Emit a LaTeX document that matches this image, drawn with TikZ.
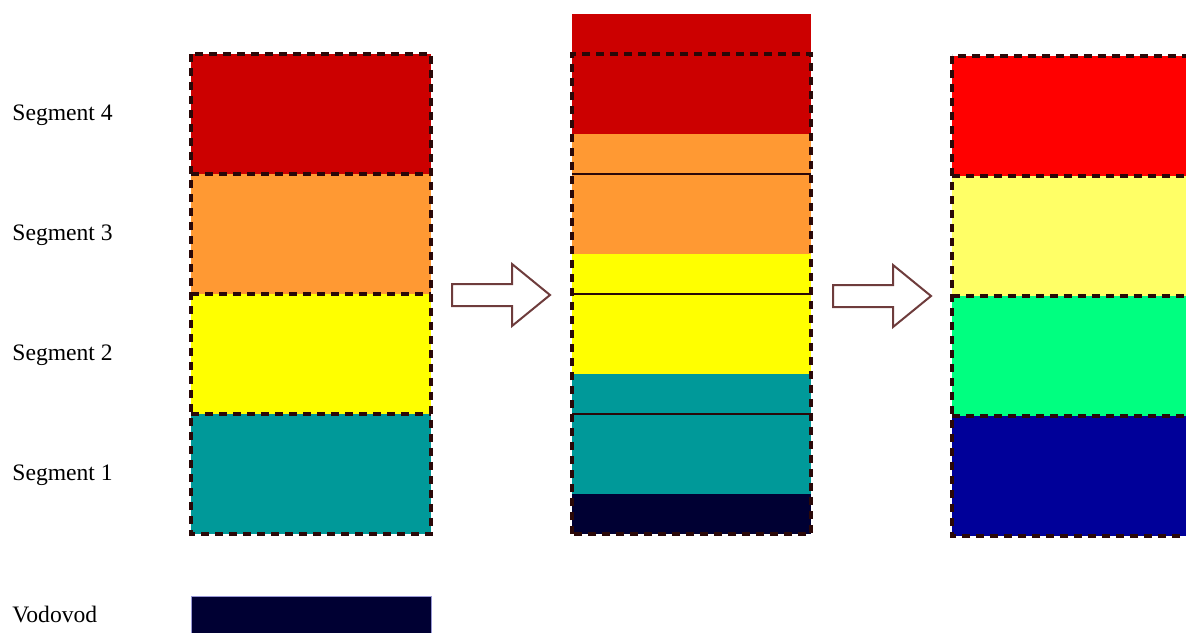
\documentclass[tikz,border=0pt]{standalone}
\usepackage{fontspec}
\setmainfont{Liberation Serif}
\definecolor{cRedA}{HTML}{CC0000}
\definecolor{cOrange}{HTML}{FF9933}
\definecolor{cYellow}{HTML}{FFFF00}
\definecolor{cTeal}{HTML}{009999}
\definecolor{cNavy}{HTML}{000033}
\definecolor{cRedB}{HTML}{FF0000}
\definecolor{cYellowB}{HTML}{FFFF66}
\definecolor{cGreen}{HTML}{00FF80}
\definecolor{cBlue}{HTML}{000099}
\definecolor{cBorder}{HTML}{2A0808}
\definecolor{cArrow}{HTML}{6E3C3C}
\tikzset{
  segbox/.style={draw=cBorder, line width=1.8pt, dash pattern=on 4pt off 3pt},
  segline/.style={draw=cBorder, line width=1.2pt},
  lbl/.style={anchor=west, inner sep=0pt, font=\fontsize{11.8pt}{13pt}\selectfont},
  blockarrow/.style={draw=cArrow, fill=white, line width=1pt, line join=miter}
}
\begin{document}
\begin{tikzpicture}[x=0.5pt,y=-0.5pt]
\useasboundingbox (0,0) rectangle (1186,632);
\clip (0,0) rectangle (1186,632);
% labels
\node[lbl] (l4) at (12,115) {Segment 4};
\node[lbl] (l3) at (12,235) {Segment 3};
\node[lbl] (l2) at (12,355) {Segment 2};
\node[lbl] (l1) at (12,475) {Segment 1};
\node[lbl] (lv) at (12,614) {Vodovod};
% left column
\fill[cRedA] (191,54) rectangle (431,174);
\fill[cOrange] (191,174) rectangle (431,294);
\fill[cYellow] (191,294) rectangle (431,414);
\fill[cTeal] (191,414) rectangle (431,534);
\draw[segbox] (191,54) rectangle (431,534);
\foreach \t in {174,294,414}{
  \draw[segbox] (191,\t) -- (431,\t);
}
% Vodovod bar
\fill[cNavy] (191,596) rectangle (431,640);
\draw[draw=cBlue!40, line width=0.4pt] (191,640) -- (191,596) -- (431,596) -- (431,640);
% middle column
\fill[cRedA] (572,14) rectangle (811,134);
\fill[cOrange] (572,134) rectangle (811,254);
\fill[cYellow] (572,254) rectangle (811,374);
\fill[cTeal] (572,374) rectangle (811,494);
\fill[cNavy] (572,494) rectangle (811,534);
\draw[segbox] (572,534) -- (572,54) -- (811,54) -- (811,534) -- cycle;
\foreach \t in {174,294,414}{
  \draw[segline] (572,\t) -- (811,\t);
}
% right column
\fill[cRedB] (952,56) rectangle (1200,176);
\fill[cYellowB] (952,176) rectangle (1200,296);
\fill[cGreen] (952,296) rectangle (1200,416);
\fill[cBlue] (952,416) rectangle (1200,536);
\draw[segbox] (952,56) rectangle (1200,536);
\foreach \t in {176,296,416}{
  \draw[segbox] (952,\t) -- (1200,\t);
}
% block arrows
\draw[blockarrow] (452,284) -- (512,284) -- (512,264) -- (550,295) -- (512,326) -- (512,306) -- (452,306) -- cycle;
\draw[blockarrow] (833,285) -- (893,285) -- (893,265) -- (931,296) -- (893,327) -- (893,307) -- (833,307) -- cycle;
\end{tikzpicture}
\end{document}
